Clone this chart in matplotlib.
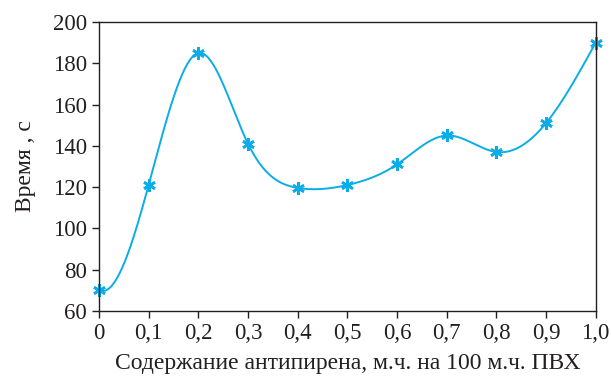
import numpy as np
import matplotlib
matplotlib.use("Agg")
import matplotlib.pyplot as plt

# содержание антипирена, м.ч. на 100 м.ч. ПВХ
content = [0.0, 0.1, 0.2, 0.3, 0.4, 0.5, 0.6, 0.7, 0.8, 0.9, 1.0]
# время, с
time_s = [70.3, 121, 185, 141, 119.6, 121, 131, 145, 137, 151, 190]
x_ticks = [0.0, 0.1, 0.2, 0.3, 0.4, 0.5, 0.6, 0.7, 0.8, 0.9, 1.0]
x_tick_labels = ["0", "0,1", "0,2", "0,3", "0,4", "0,5", "0,6", "0,7", "0,8", "0,9", "1,0"]
y_ticks = [60, 80, 100, 120, 140, 160, 180, 200]


def smooth_line(x, y, start_slope=-150.0, n=400):
    """Cubic spline: clamped slope at the first point, natural at the last."""
    x = np.asarray(x, float)
    y = np.asarray(y, float)
    k = len(x)
    h = np.diff(x)
    A = np.zeros((k, k))
    b = np.zeros(k)
    A[0, 0] = 2 * h[0]
    A[0, 1] = h[0]
    b[0] = 6 * ((y[1] - y[0]) / h[0] - start_slope)
    A[-1, -1] = 1
    for i in range(1, k - 1):
        A[i, i - 1] = h[i - 1]
        A[i, i] = 2 * (h[i - 1] + h[i])
        A[i, i + 1] = h[i]
        b[i] = 6 * ((y[i + 1] - y[i]) / h[i] - (y[i] - y[i - 1]) / h[i - 1])
    m = np.linalg.solve(A, b)
    xs = np.linspace(x[0], x[-1], n)
    idx = np.clip(np.searchsorted(x, xs) - 1, 0, k - 2)
    x0, x1 = x[idx], x[idx + 1]
    hh = x1 - x0
    t1, t0 = x1 - xs, xs - x0
    ys = (m[idx] * t1**3 / (6 * hh) + m[idx + 1] * t0**3 / (6 * hh)
          + (y[idx] / hh - m[idx] * hh / 6) * t1
          + (y[idx + 1] / hh - m[idx + 1] * hh / 6) * t0)
    return xs, ys


plt.rcParams["font.family"] = ["Liberation Serif", "DejaVu Serif"]

fig = plt.figure(figsize=(6.11, 3.80), dpi=100)
ax = fig.add_axes([0.162, 0.182, 0.813, 0.760])

color = "#0AADE8"
xs, ys = smooth_line(content, time_s)
ax.plot(xs, ys, color=color, linewidth=1.4)
ax.plot(content, time_s, linestyle="none", marker=(6, 2, 0), markersize=9,
        markeredgewidth=1.9, color=color, clip_on=False)

ax.set_xlim(0, 1.0)
ax.set_ylim(60, 200)
ax.set_xticks(x_ticks)
ax.set_xticklabels(x_tick_labels)
ax.set_yticks(y_ticks)
ax.tick_params(direction="out", length=5, width=1, labelsize=16.5, colors="#231f20")
for s in ax.spines.values():
    s.set_linewidth(1.0)
    s.set_color("#231f20")

ax.set_xlabel("Содержание антипирена, м.ч. на 100 м.ч. ПВХ", fontsize=17,
              color="#231f20", labelpad=7)
ax.set_ylabel("Время , с", fontsize=17, color="#231f20", labelpad=12)

fig.savefig("out.png", dpi=100)
